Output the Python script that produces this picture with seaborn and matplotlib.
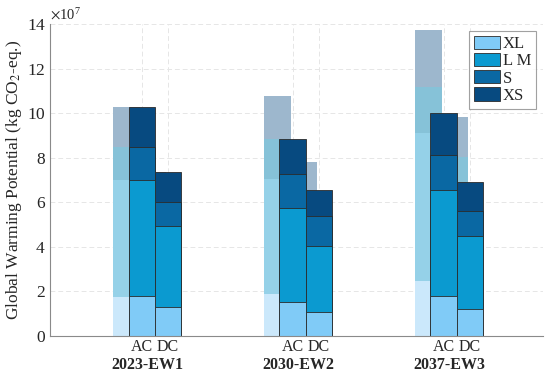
import pandas as pd
import seaborn as sns
import matplotlib.pyplot as plt
from matplotlib.patches import Patch

# Data (values in units of 1e7 kg CO2-eq.), cumulative top of each stacked segment
groups = ["2023-EW1", "2030-EW2", "2037-EW3"]
segments = ["XL", "L M", "S", "XS"]
SCALE = 1e7

# order of each inner list: XL, L M, S, XS (cumulative tops)
ac_tops = [[1.79, 7.00, 8.48, 10.27],
           [1.52, 5.74, 7.26, 8.83],
           [1.79, 6.55, 8.10, 10.00]]
dc_tops = [[1.30, 4.93, 6.00, 7.35],
           [1.08, 4.04, 5.38, 6.55],
           [1.20, 4.48, 5.60, 6.92]]
# faded reference bars drawn behind AC / DC
ac_ref_tops = [[1.75, 7.00, 8.48, 10.27],
               [1.88, 7.04, 8.83, 10.76],
               [2.47, 9.10, 11.17, 13.72]]
dc_ref_tops = [[1.30, 4.93, 6.00, 7.35],
               [1.25, 4.70, 6.20, 7.80],
               [1.50, 6.00, 8.03, 9.83]]

solid_colors = ["#80CBF7", "#0B9AD0", "#0A68A3", "#074A80"]
faded_colors = ["#CBE8FB", "#95D1E8", "#86C2D8", "#9DB7CD"]

# Layout
W = 0.175      # bar width (group spacing = 1)
SHIFT = 0.10   # faded bars are shifted left

ac_pos = [g - W / 2 for g in range(len(groups))]
dc_pos = [g + W / 2 for g in range(len(groups))]


def build(pos_ac, pos_dc, tops_ac, tops_dc):
    rows = []
    for i in range(len(groups)):
        for k, seg in enumerate(segments):
            rows.append({"pos": pos_ac[i], "seg": seg, "top": tops_ac[i][k] * SCALE})
            rows.append({"pos": pos_dc[i], "seg": seg, "top": tops_dc[i][k] * SCALE})
    return pd.DataFrame(rows)


solid_df = build(ac_pos, dc_pos, ac_tops, dc_tops)
faded_df = build([p - SHIFT for p in ac_pos], [p - SHIFT for p in dc_pos],
                 ac_ref_tops, dc_ref_tops)

sns.set_theme(style="whitegrid")
plt.rcParams["font.family"] = ["Liberation Serif", "DejaVu Serif"]
plt.rcParams["mathtext.fontset"] = "stix"

fig, ax = plt.subplots(figsize=(5.5, 3.75), dpi=100)
fig.subplots_adjust(left=0.091, right=0.987, bottom=0.104, top=0.936)

# draw from the top segment down so lower segments overlay upper ones
for k in reversed(range(len(segments))):
    sub = faded_df[faded_df["seg"] == segments[k]]
    sns.barplot(data=sub, x="pos", y="top", native_scale=True, width=1.0,
                color=faded_colors[k], saturation=1, errorbar=None,
                linewidth=0, zorder=1, ax=ax)
for k in reversed(range(len(segments))):
    sub = solid_df[solid_df["seg"] == segments[k]]
    sns.barplot(data=sub, x="pos", y="top", native_scale=True, width=1.0,
                color=solid_colors[k], saturation=1, errorbar=None,
                edgecolor="#2b2b2b", linewidth=0.6, zorder=2, ax=ax)

# Axes
ax.set_xlim(-0.695, 2.57)
ax.set_ylim(0, 14 * SCALE)
ax.set_yticks([v * SCALE for v in range(0, 15, 2)])
ax.ticklabel_format(axis="y", style="sci", scilimits=(7, 7), useMathText=True)
ax.yaxis.get_offset_text().set_fontsize(10.5)

ticks = sorted(ac_pos + dc_pos)
ax.set_xticks(ticks)
ax.set_xticklabels(["AC", "DC"] * len(groups), fontsize=11.5)
ax.set_xticks([g - SHIFT / 2 for g in range(len(groups))], minor=True)
ax.set_xticklabels(groups, minor=True, fontsize=11.5, fontweight="bold")
ax.tick_params(axis="x", which="major", length=0, pad=2)
ax.tick_params(axis="x", which="minor", length=0, pad=15)
ax.tick_params(axis="y", direction="in", length=3, color="#888888",
               labelsize=12.5, pad=3)

ax.set_xlabel("")
ax.set_ylabel("Global Warming Potential (kg CO$_2$-eq.)", fontsize=12.5, labelpad=2)

ax.grid(True, which="major", linestyle=(0, (5, 3)), color="#e6e6e6", linewidth=0.7)
ax.set_axisbelow(True)
for side in ["top", "right"]:
    ax.spines[side].set_visible(False)
for side in ["left", "bottom"]:
    ax.spines[side].set_color("#8a8a8a")
    ax.spines[side].set_linewidth(0.8)

handles = [Patch(facecolor=c, edgecolor="#2b2b2b", linewidth=0.6) for c in solid_colors]
leg = ax.legend(handles, segments, loc="upper right", fontsize=12,
                frameon=True, fancybox=False, edgecolor="#8a8a8a",
                handlelength=1.6, handleheight=0.85, handletextpad=0.15,
                labelspacing=0.05, borderpad=0.3, borderaxespad=0.4)
leg.get_frame().set_linewidth(0.8)

fig.savefig("out.png", dpi=100)
